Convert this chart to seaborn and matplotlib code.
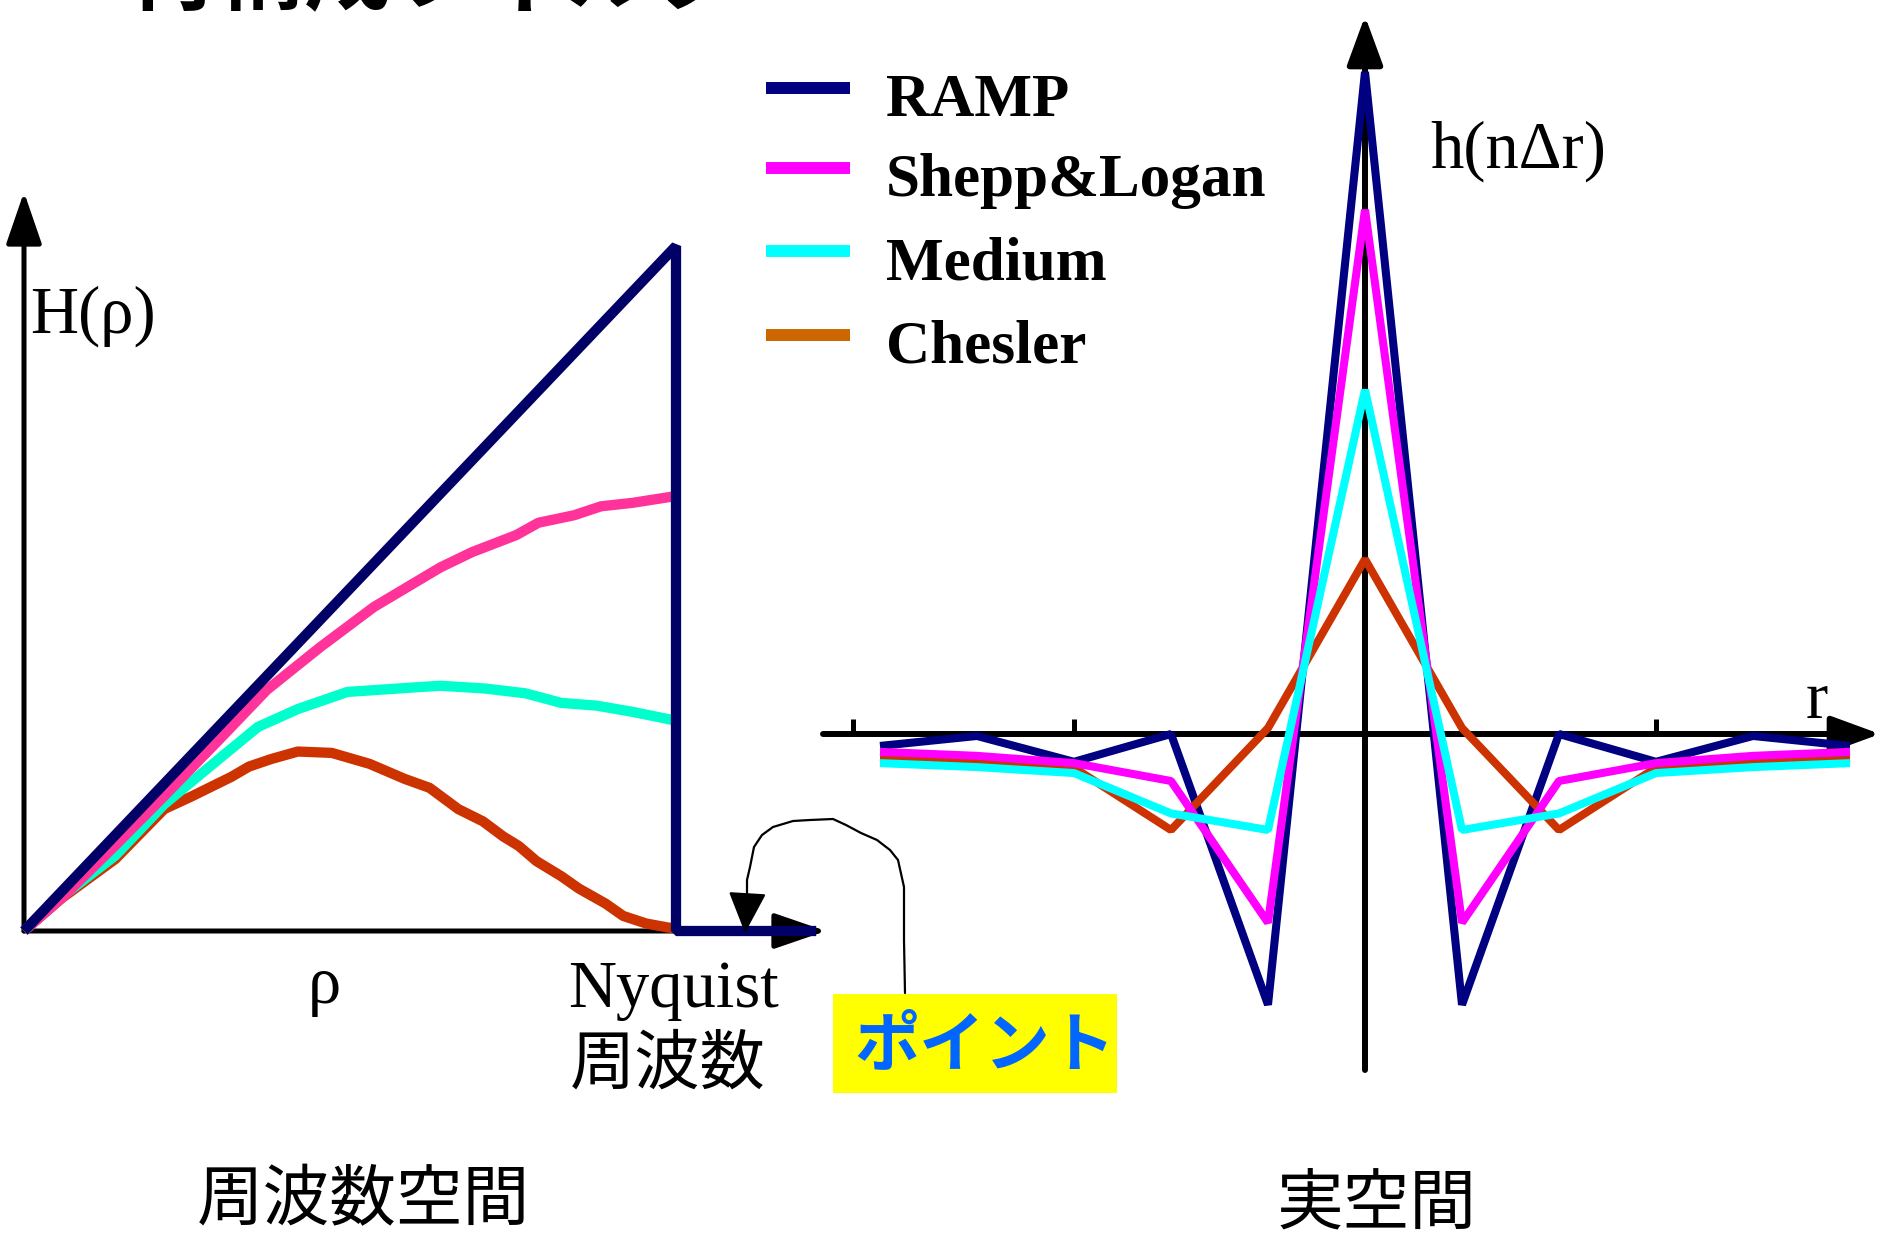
import matplotlib
matplotlib.use("Agg")
import numpy as np
import pandas as pd
import seaborn as sns
import matplotlib.pyplot as plt
from matplotlib.patches import FancyArrowPatch, Rectangle
from matplotlib.path import Path
from matplotlib.lines import Line2D

# ---------------- data ----------------
# frequency space (rho normalised to Nyquist = 1)
ramp_rho = [0.0, 1.0, 1.0, 1.215]
ramp_H = [0.0, 1.0, 0.0, 0.0]

shepp_rho = [0.0, 0.06, 0.14, 0.215, 0.30, 0.3725, 0.4545, 0.5366, 0.639, 0.687,
             0.755, 0.789, 0.844, 0.885, 0.933, 1.0]
shepp_H = [0.0, 0.05, 0.125, 0.197, 0.28, 0.352, 0.4145, 0.473, 0.531, 0.553,
           0.578, 0.596, 0.607, 0.620, 0.625, 0.635]

medium_rho = [0.0, 0.058, 0.14, 0.215, 0.304, 0.359, 0.42, 0.496, 0.605, 0.639,
              0.707, 0.769, 0.824, 0.878, 0.933, 1.0]
medium_H = [0.0, 0.05, 0.11, 0.185, 0.255, 0.298, 0.324, 0.349, 0.356, 0.358,
            0.354, 0.347, 0.333, 0.329, 0.320, 0.307]

chesler_rho = [0.0, 0.058, 0.14, 0.215, 0.256, 0.318, 0.345, 0.379, 0.42, 0.472,
               0.53, 0.584, 0.622, 0.666, 0.704, 0.735, 0.759, 0.786, 0.824, 0.851,
               0.892, 0.919, 0.954, 0.988, 1.0]
chesler_H = [0.0, 0.048, 0.105, 0.178, 0.196, 0.225, 0.240, 0.251, 0.262, 0.260,
             0.244, 0.222, 0.209, 0.178, 0.160, 0.138, 0.124, 0.102, 0.080, 0.062,
             0.040, 0.022, 0.011, 0.005, 0.004]

# real space (n = sample index, normalised to RAMP peak)
n_idx = [-5, -4, -3, -2, -1, 0, 1, 2, 3, 4, 5]
ramp_h = [-0.018, -0.003, -0.042, 0.0, -0.409, 1.0, -0.409, 0.0, -0.042, -0.003, -0.018]
shepp_h = [-0.027, -0.033, -0.044, -0.071, -0.285, 0.792, -0.285, -0.071, -0.044, -0.033, -0.027]
medium_h = [-0.044, -0.050, -0.059, -0.120, -0.145, 0.520, -0.145, -0.120, -0.059, -0.050, -0.044]
chesler_h = [-0.036, -0.042, -0.051, -0.145, 0.009, 0.264, 0.009, -0.145, -0.051, -0.042, -0.036]
r_ticks = [-5.28, -3, 3]

legend_names = ["RAMP", "Shepp&Logan", "Medium", "Chesler"]
legend_colors = ["#000080", "#FF00FF", "#00FFFF", "#CC6600"]

# ---------------- style ----------------
sns.set_style("white")
plt.rcParams["font.family"] = ["Liberation Serif", "Noto Sans CJK JP", "DejaVu Sans"]
plt.rcParams["text.color"] = "black"
JP = ["Noto Sans CJK JP", "DejaVu Sans"]
SERIF = ["Liberation Serif", "DejaVu Serif"]

W, H = 1884, 1239
fig = plt.figure(figsize=(W / 100, H / 100), dpi=100)
fig.patch.set_facecolor("white")


def fp(x, y):
    return (x / W, 1 - y / H)


# ---------------- left: frequency space ----------------
ax1 = fig.add_axes([0, (H - 1000) / H, 880 / W, 850 / H])
ax1.axis("off")
ax1.patch.set_alpha(0)

ax1.add_patch(FancyArrowPatch((0, 0), (0, (931 - 192) / 685), transform=ax1.transData,
                              arrowstyle="-|>,head_length=32,head_width=11", mutation_scale=1,
                              lw=3.6, color="black", shrinkA=0, shrinkB=0, zorder=2))
ax1.add_patch(FancyArrowPatch((0, 0), ((826 - 24) / 652, 0), transform=ax1.transData,
                              arrowstyle="-|>,head_length=32,head_width=11", mutation_scale=1,
                              lw=3.6, color="black", shrinkA=0, shrinkB=0, zorder=2))

kw = dict(estimator=None, sort=False, linewidth=7.4, solid_capstyle="butt",
          solid_joinstyle="bevel", legend=False)
sns.lineplot(x=chesler_rho, y=chesler_H, ax=ax1, color="#CC3300", zorder=3, **kw)
sns.lineplot(x=medium_rho, y=medium_H, ax=ax1, color="#00FFCC", zorder=4, **kw)
sns.lineplot(x=shepp_rho, y=shepp_H, ax=ax1, color="#FF3399", zorder=5, **kw)
sns.lineplot(x=ramp_rho, y=ramp_H, ax=ax1, color="#000066", zorder=6, **kw)
ax1.set_xlim(-24 / 652, 856 / 652)
ax1.set_ylim((931 - 1000) / 685, (931 - 150) / 685)

# ---------------- right: real space ----------------
ax2 = fig.add_axes([800 / W, (H - 1100) / H, 1084 / W, 1100 / H])
ax2.axis("off")
ax2.patch.set_alpha(0)
xl2 = ((800 - 1365) / 97, (1884 - 1365) / 97)
yl2 = ((734 - 1100) / 662, 734 / 662)

ax2.add_patch(FancyArrowPatch(((823 - 1365) / 97, 0), ((1880 - 1365) / 97, 0), transform=ax2.transData,
                              arrowstyle="-|>,head_length=30,head_width=11", mutation_scale=1,
                              lw=4.3, color="black", shrinkA=0, shrinkB=0, zorder=2))
ax2.add_patch(FancyArrowPatch((0, (734 - 1070) / 662), (0, (734 - 16) / 662), transform=ax2.transData,
                              arrowstyle="-|>,head_length=30,head_width=11", mutation_scale=1,
                              lw=4.3, color="black", shrinkA=0, shrinkB=0, zorder=2))
ax2.vlines(r_ticks, 0, 15 / 662, colors="black", lw=3.6, zorder=2)

kw2 = dict(estimator=None, sort=False, linewidth=5.8, solid_capstyle="butt",
           solid_joinstyle="bevel", legend=False)
sns.lineplot(x=n_idx, y=ramp_h, ax=ax2, color="#000080", zorder=3, **kw2)
sns.lineplot(x=n_idx, y=chesler_h, ax=ax2, color="#CC3300", zorder=4, **kw2)
sns.lineplot(x=n_idx, y=shepp_h, ax=ax2, color="#FF00FF", zorder=5, **kw2)
sns.lineplot(x=n_idx, y=medium_h, ax=ax2, color="#00FFFF", zorder=6, **kw2)
ax2.set_xlim(*xl2)
ax2.set_ylim(*yl2)

# ---------------- legend ----------------
for i, (name, col) in enumerate(zip(legend_names, legend_colors)):
    ly = [88, 168, 251, 335][i]
    fig.add_artist(Line2D([766 / W, 850 / W], [1 - ly / H] * 2, transform=fig.transFigure,
                          color=col, lw=8.6, solid_capstyle="butt"))
    fig.text(886 / W, 1 - (ly + 28) / H, name, fontsize=44, weight="bold",
             va="baseline", ha="left", family=SERIF, color="black")

# ---------------- texts ----------------
fig.text(*fp(30, 333), "H(ρ)", fontsize=48, va="baseline", ha="left", family=SERIF)
fig.text(*fp(324, 1003), "ρ", fontsize=48, va="baseline", ha="center", family=SERIF)
fig.text(*fp(673, 1007), "Nyquist", fontsize=48, va="baseline", ha="center", family=SERIF)
fig.text(*fp(668, 1065), "周波数", fontsize=47, va="center", ha="center", family=JP)
fig.text(*fp(1817, 718), "r", fontsize=48, va="baseline", ha="center", family=SERIF)
fig.text(*fp(1430, 168), "h(nΔr)", fontsize=48, va="baseline", ha="left", family=SERIF)
fig.text(*fp(363, 1201), "周波数空間", fontsize=48, va="center", ha="center", family=JP)
fig.text(*fp(1376, 1205), "実空間", fontsize=48, va="center", ha="center", family=JP)
fig.text(*fp(129, 2), "再構成フィルタ", fontsize=63, va="baseline", ha="left",
         weight="bold", family=JP)

# "ポイント" callout
fig.add_artist(Rectangle(fp(833, 1093), (1117 - 833) / W, (1093 - 994) / H,
                         transform=fig.transFigure, facecolor="#FFFF00", edgecolor="none", zorder=1))
fig.text(*fp(985, 1046), "ポイント", fontsize=47, weight="bold", color="#0066FF",
         va="center", ha="center", family=JP, zorder=2)

curve_px = [(905, 993), (904, 940), (904, 887), (898, 860), (890, 850), (877, 840), (861, 833),
            (846, 825), (833, 819), (810, 820), (793, 821), (773, 827), (762, 835), (754, 847),
            (750, 867), (747, 880), (747, 900), (745, 933)]
verts = [fp(x, y) for x, y in curve_px]
fig.add_artist(FancyArrowPatch(path=Path(verts), transform=fig.transFigure,
                               arrowstyle="-|>,head_length=26,head_width=12", mutation_scale=1,
                               lw=1.6, color="black", zorder=3))

fig.savefig("out.png", dpi=100, facecolor="white")
